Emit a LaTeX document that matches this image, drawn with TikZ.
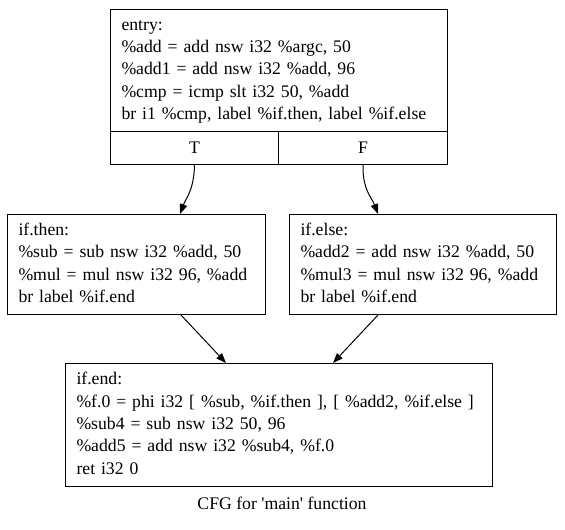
\documentclass[tikz,border=0pt]{standalone}
\usepackage{fontspec}
\setmainfont{Liberation Serif}
\usetikzlibrary{arrows.meta}
\tikzset{
  gfont/.style={font=\fontsize{17.7}{22.4}\selectfont},
  blk/.style={draw, line width=1pt, rectangle, inner xsep=11pt, inner ysep=0pt,
    align=left, gfont, anchor=north west},
  cell/.style={draw, line width=1pt, rectangle, inner sep=0pt, gfont, anchor=north west},
  arr/.style={-{Triangle[length=10pt,width=7.5pt]}, line width=1pt}
}
\begin{document}
\begin{tikzpicture}[x=1pt,y=-1pt]
\useasboundingbox (0,0) rectangle (565,530);
\node[blk, text width=315pt, minimum width=337pt, minimum height=122pt] (entry) at (110,9)
  {\strut entry:\\
   \%add = add nsw i32 \%argc, 50\\
   \%add1 = add nsw i32 \%add, 96\\
   \%cmp = icmp slt i32 50, \%add\\
   br i1 \%cmp, label \%if.then, label \%if.else\strut};
\node[cell, minimum width=168pt, minimum height=33pt] (T) at (110,131) {T};
\node[cell, minimum width=169pt, minimum height=33pt] (F) at (278,131) {F};
\node[blk, text width=236pt, minimum width=258pt, minimum height=100pt] (then) at (7,214)
  {\strut if.then:\\
   \%sub = sub nsw i32 \%add, 50\\
   \%mul = mul nsw i32 96, \%add\\
   br label \%if.end\strut};
\node[blk, text width=245pt, minimum width=267pt, minimum height=100pt] (else) at (289,214)
  {\strut if.else:\\
   \%add2 = add nsw i32 \%add, 50\\
   \%mul3 = mul nsw i32 96, \%add\\
   br label \%if.end\strut};
\node[blk, text width=405pt, minimum width=427pt, minimum height=123pt] (end) at (65,363)
  {\strut if.end:\\
   \%f.0 = phi i32 [ \%sub, \%if.then ], [ \%add2, \%if.else ]\\
   \%sub4 = sub nsw i32 50, 96\\
   \%add5 = add nsw i32 \%sub4, \%f.0\\
   ret i32 0\strut};
\node[gfont, inner sep=0pt] (cap) at (282,503) {CFG for \textquotesingle main\textquotesingle{} function};
\draw[arr] (T.south) .. controls (194,190) and (186,198) .. ([xshift=173pt]then.north west);
\draw[arr] (F.south) .. controls (362.5,190) and (372,198) .. ([xshift=89pt]else.north west);
\draw[arr] ([xshift=174pt]then.south west) -- ([xshift=161pt]end.north west);
\draw[arr] ([xshift=89pt]else.south west) -- ([xshift=268pt]end.north west);
\end{tikzpicture}
\end{document}
